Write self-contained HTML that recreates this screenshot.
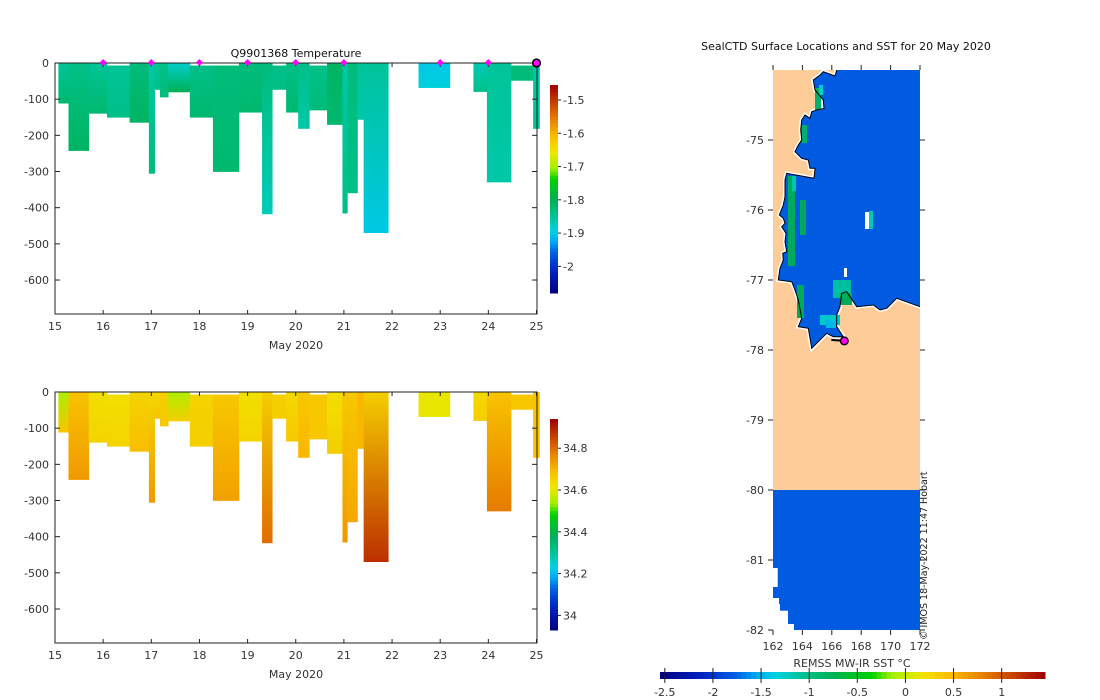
<!DOCTYPE html>
<html><head><meta charset="utf-8"><style>
html,body{margin:0;padding:0;background:#fff;}
svg{display:block;font-family:"DejaVu Sans","Liberation Sans",sans-serif;}
text{font-size:11px;fill:#333;}
</style></head><body>
<svg id="fig" width="1100" height="700" viewBox="0 0 1100 700">
<defs id="defs"></defs>
<text x="296" y="57" text-anchor="middle" style="fill:#111">Q9901368  Temperature</text>
<g id="secT"></g>
<g id="secS"></g>
<g id="map"></g>
<text x="846" y="50" text-anchor="middle" style="fill:#111">SealCTD Surface Locations and SST for 20 May 2020</text>
<text transform="translate(927,640) rotate(-90)" style="font-size:9.5px;fill:#222">© IMOS 18-May-2022 11:47 Hobart</text>
</svg>
<script>
// ---- data ----
const colStart=[15.07,15.28,15.70,16.08,16.55,16.95,17.07,17.18,17.35,17.80,18.28,18.82,19.30,19.51,19.80,20.05,20.28,20.65,20.97,21.07,21.28,21.41,22.55,23.69,23.97,24.47,24.93];
const colEnd  =[15.28,15.70,16.08,16.55,16.95,17.07,17.18,17.35,17.80,18.28,18.82,19.30,19.51,19.80,20.05,20.28,20.65,20.97,21.07,21.28,21.41,21.92,23.20,23.97,24.47,24.93,25.06];
const colTop  =[0,0,0,7,0,0,0,0,0,7,7,0,0,7,0,0,7,0,0,0,0,0,0,0,0,7,0];
const colDepth=[112,243,140,151,165,306,74,95,81,151,301,137,418,74,137,182,131,171,416,360,157,470,69,80,330,49,182];
const tempTop =[-1.85,-1.84,-1.85,-1.85,-1.83,-1.86,-1.85,-1.84,-1.88,-1.84,-1.83,-1.83,-1.83,-1.84,-1.84,-1.84,-1.84,-1.81,-1.86,-1.83,-1.85,-1.85,-1.90,-1.87,-1.85,-1.83,-1.86];
const tempBot =[-1.82,-1.81,-1.82,-1.84,-1.81,-1.83,-1.84,-1.83,-1.80,-1.82,-1.82,-1.82,-1.87,-1.84,-1.82,-1.86,-1.83,-1.82,-1.84,-1.84,-1.86,-1.90,-1.89,-1.84,-1.86,-1.83,-1.85];
const salTop  =[34.55,34.68,34.63,34.63,34.65,34.64,34.64,34.66,34.55,34.65,34.67,34.63,34.66,34.66,34.64,34.67,34.67,34.63,34.67,34.67,34.70,34.66,34.61,34.64,34.68,34.67,34.68];
const salBot  =[34.68,34.74,34.65,34.65,34.69,34.74,34.68,34.67,34.66,34.66,34.73,34.65,34.80,34.66,34.67,34.70,34.67,34.66,34.74,34.72,34.70,34.88,34.61,34.66,34.78,34.67,34.68];
const stationDays=[16,17,18,19,20,21,23,24];
const lastDay=25;
const depthTicks=[0,-100,-200,-300,-400,-500,-600];
const dayTicks=[15,16,17,18,19,20,21,22,23,24,25];
const tempCbTicks=[-1.5,-1.6,-1.7,-1.8,-1.9,-2];
const salCbTicks=[34.8,34.6,34.4,34.2,34];
const lonTicks=[162,164,166,168,170,172];
const latTicks=[-75,-76,-77,-78,-79,-80,-81,-82];
const sstTicks=[-2.5,-2,-1.5,-1,-0.5,0,0.5,1];
const seaSST=-1.8;
const ctdLon=166.85, ctdLat=-77.87;

const NS="http://www.w3.org/2000/svg";
function mk(tag,attrs,parent){const e=document.createElementNS(NS,tag);for(const k in attrs)e.setAttribute(k,attrs[k]);parent.appendChild(e);return e;}
const stops=[[0,[0,0,128]],[0.12,[0,40,200]],[0.2,[0,100,230]],[0.25,[0,170,240]],[0.3,[0,210,225]],[0.35,[0,200,170]],[0.39,[0,190,130]],[0.45,[0,175,85]],[0.55,[0,210,0]],[0.6,[160,240,0]],[0.68,[240,230,0]],[0.76,[250,185,0]],[0.86,[225,110,0]],[1,[160,0,0]]];
function cmap(f){f=Math.max(0,Math.min(1,f));for(let i=1;i<stops.length;i++){if(f<=stops[i][0]){const a=stops[i-1],b=stops[i];const t=(f-a[0])/(b[0]-a[0]);const c=a[1].map((v,j)=>Math.round(v+(b[1][j]-v)*t));return `rgb(${c})`;}}return 'rgb(160,0,0)';}
const defs=document.getElementById('defs');
const X0=55,X1=537;
function xDay(d){return X0+(d-15)*48.15;}

function section(gid,yTop,vals1,vals2,vmin,vmax,cbTop,cbBot,cbTicks,cbName,prefix){
  const g=document.getElementById(gid);
  const yD=z=>yTop+z*0.3617;
  for(let i=0;i<colStart.length;i++){
    const gid2=prefix+'g'+i;
    const lg=mk('linearGradient',{id:gid2,x1:0,y1:0,x2:0,y2:1},defs);
    mk('stop',{offset:0,'stop-color':cmap((vals1[i]-vmin)/(vmax-vmin))},lg);
    mk('stop',{offset:1,'stop-color':cmap((vals2[i]-vmin)/(vmax-vmin))},lg);
    const r=mk('rect',{x:xDay(colStart[i]),y:yD(colTop[i]),width:xDay(colEnd[i])-xDay(colStart[i])+0.4,height:yD(colDepth[i])-yD(colTop[i]),fill:`url(#${gid2})`},g);
    
    
  }
  const yB=yTop+251;
  mk('rect',{x:X0,y:yTop,width:X1-X0,height:yB-yTop,fill:'none',stroke:'#222','stroke-width':1},g);
  depthTicks.forEach(t=>{const y=yD(-t);
    mk('line',{x1:X0,x2:X0+5,y1:y,y2:y,stroke:'#222'},g);mk('line',{x1:X1,x2:X1-5,y1:y,y2:y,stroke:'#222'},g);
    const tx=mk('text',{x:X0-6,y:y+4,'text-anchor':'end'},g);tx.textContent=t;
    });
  dayTicks.forEach(d=>{const x=xDay(d);
    mk('line',{x1:x,x2:x,y1:yTop,y2:yTop+4,stroke:'#222'},g);mk('line',{x1:x,x2:x,y1:yB,y2:yB-4,stroke:'#222'},g);
    const tx=mk('text',{x:x,y:yB+16,'text-anchor':'middle'},g);tx.textContent=d;
    });
  const xl=mk('text',{x:296,y:yB+35,'text-anchor':'middle'},g);xl.textContent='May 2020';
  
  const cx=550,cw=8,n=60;
  const cbY=v=>cbBot-(v-vmin)/(vmax-vmin)*(cbBot-cbTop);
  for(let k=0;k<n;k++){const v0=vmin+(vmax-vmin)*k/n,v1=vmin+(vmax-vmin)*(k+1)/n;
    mk('rect',{x:cx,y:cbY(v1),width:cw,height:cbY(v0)-cbY(v1)+0.5,fill:cmap((k+0.5)/n)},g);}
  const cbFrame=mk('rect',{x:cx,y:cbTop,width:cw,height:cbBot-cbTop,fill:'none',stroke:'none'},g);
  
  cbTicks.forEach(t=>{const y=cbY(t);mk('line',{x1:cx+cw,x2:cx+cw+3,y1:y,y2:y,stroke:'#222'},g);
    const tx=mk('text',{x:cx+13,y:y+4},g);tx.textContent=t;
    });
}
section('secT',63,tempTop,tempBot,-2.08,-1.455,85,293,tempCbTicks,'temperature-colorbar','t');
section('secS',392,salTop,salBot,33.93,34.94,419,630,salCbTicks,'salinity-colorbar','s');
const gT=document.getElementById('secT');
stationDays.forEach(d=>{const m=mk('path',{d:`M${xDay(d)} 59 l3.5 3.5 l-3.5 3.5 l-3.5 -3.5z`,fill:'#f0f'},gT);
  });
const lm=mk('circle',{cx:xDay(lastDay),cy:63,r:3.8,fill:'#f0f',stroke:'#000','stroke-width':1.6},gT);


// ---- map ----
const gm=document.getElementById('map');
const MX0=773,MX1=920,MY0=70,MY1=630;
const lonX=l=>MX0+(l-162)*14.7;
const latY=l=>MY0+(-74-l)*70;
mk('rect',{x:MX0,y:MY0,width:MX1-MX0,height:MY1-MY0,fill:'#fecc99'},gm);
const sea=cmap((seaSST+2.55)/4);
const coast="836.7,70 835,76 823.3,71.7 820,75 813.3,80 815,90 823.3,100 824,108.3 816.7,110 811.7,111.7 810,118.3 805,115 801.7,120 800.7,130 801.7,140 798.3,145 795,151.7 801.7,158.3 808.3,160 810,168.3 815,168.3 814,178.3 786.7,173.3 785,180 785,196.7 783.3,205 779.3,215 783.3,218.3 785,223.3 781.7,226.7 786,233.3 785,241.7 786.7,251.7 782.7,253.3 783.3,260 780,268.3 778.3,280 791.7,281.7 795,290 798.3,300 801.7,318.3 798.3,326.7 808.3,328.3 811.7,348.3 826.7,333.3 833.3,336.7 843.3,336.7 836.7,326.7 836.7,315 840,306.7 841.7,293.3 846.7,291.7 856.7,306.7 873.3,305 880,310 886.7,308.3 896.7,298.3 920,306.7 920,70";
mk('polygon',{points:coast,fill:'#fff'},gm);
const seaPoly=mk('polygon',{points:coast,fill:sea,stroke:'#fff','stroke-width':4,'paint-order':'stroke'},gm);

const strips=[[788,176,7,90,'rgb(0,170,90)'],[792,176,4,15,'rgb(0,200,170)'],[800,200,6,35,'rgb(0,170,90)'],[815,88,6,22,'rgb(0,175,110)'],[819,85,4,10,'rgb(0,205,200)'],[802,125,5,18,'rgb(0,175,110)'],[797,285,7,33,'rgb(0,170,90)'],[833,280,18,18,'rgb(0,190,160)'],[840,293,12,12,'rgb(0,170,90)'],[820,315,20,10,'rgb(0,200,200)'],[826,320,10,8,'rgb(0,185,230)'],[869,211,4,18,'rgb(0,200,190)']];
strips.forEach(s=>mk('rect',{x:s[0],y:s[1],width:s[2],height:s[3],fill:s[4]},gm));
mk('rect',{x:865,y:212,width:4,height:17,fill:'#fff'},gm);
mk('rect',{x:844,y:268,width:3,height:9,fill:'#fff'},gm);
const cl=mk('polyline',{points:coast.split(' ').slice(0,-1).join(' '),fill:'none',stroke:'#000','stroke-width':1},gm);

const sb=mk('rect',{x:MX0,y:latY(-80),width:MX1-MX0,height:MY1-latY(-80),fill:sea},gm);

[[773,568,4.7,19],[773,598,6,6],[773,604,7,7],[773,610.7,15,13.3],[773,624,21,6]].forEach(s=>mk('rect',{x:s[0],y:s[1],width:s[2],height:s[3],fill:'#fff'},gm));
mk('line',{x1:lonX(ctdLon)-13,y1:latY(ctdLat)-1,x2:lonX(ctdLon),y2:latY(ctdLat),stroke:'#000','stroke-width':2},gm);
const cd=mk('circle',{cx:lonX(ctdLon),cy:latY(ctdLat),r:3.8,fill:'#f0f',stroke:'#000','stroke-width':1.4},gm);

lonTicks.forEach(l=>{const x=lonX(l);mk('line',{x1:x,x2:x,y1:MY0-5,y2:MY0,stroke:'#222'},gm);mk('line',{x1:x,x2:x,y1:MY1,y2:MY1+5,stroke:'#222'},gm);
  const t=mk('text',{x:x,y:MY1+20,'text-anchor':'middle'},gm);t.textContent=l;
  });
latTicks.forEach(l=>{const y=latY(l);mk('line',{x1:MX0-5,x2:MX0,y1:y,y2:y,stroke:'#222'},gm);mk('line',{x1:MX1,x2:MX1+5,y1:y,y2:y,stroke:'#222'},gm);
  const t=mk('text',{x:MX0-9,y:y+4,'text-anchor':'end'},gm);t.textContent=l;
  });
const SX0=660,SX1=1045,SV0=-2.55,SV1=1.45;
const sx=v=>SX0+(v-SV0)/(SV1-SV0)*(SX1-SX0);
const nb=80;
for(let k=0;k<nb;k++){mk('rect',{x:SX0+(SX1-SX0)*k/nb,y:672,width:(SX1-SX0)/nb+0.5,height:7,fill:cmap((k+0.5)/nb)},gm);}
const sf=mk('rect',{x:SX0,y:672,width:SX1-SX0,height:7,fill:'none'},gm);

sstTicks.forEach(v=>{const x=sx(v);mk('line',{x1:x,x2:x,y1:668,y2:683,stroke:'#222'},gm);
  const t=mk('text',{x:x,y:696,'text-anchor':'middle'},gm);t.textContent=v;
  });
const st=mk('text',{x:852,y:667,'text-anchor':'middle'},gm);st.textContent='REMSS MW-IR SST °C';

</script>
</body></html>
